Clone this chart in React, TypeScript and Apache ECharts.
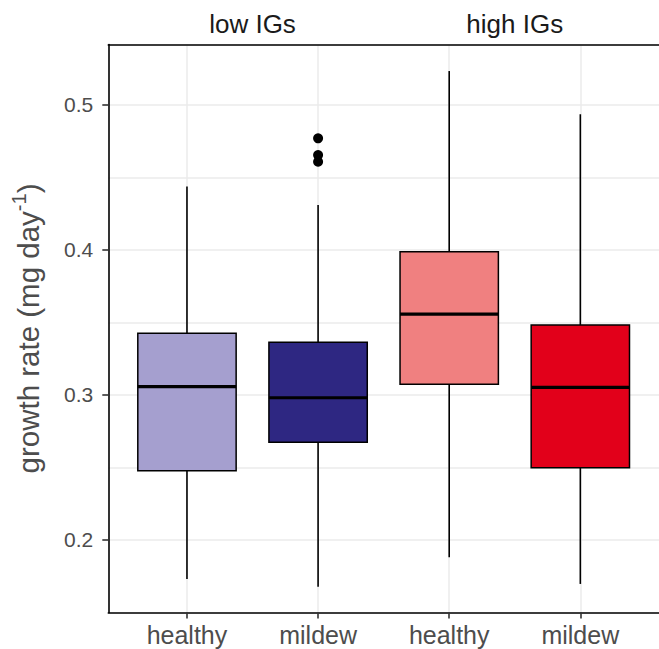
import React, { useEffect, useRef } from 'react';
import * as echarts from 'echarts';

const categories = ['healthy', 'mildew', 'healthy', 'mildew'];
const groups = ['low IGs', 'high IGs'];
const whiskerLow = [0.1731, 0.1678, 0.1881, 0.1697];
const q1 = [0.2478, 0.2674, 0.3074, 0.2499];
const median = [0.3057, 0.2981, 0.3557, 0.3053];
const q3 = [0.3426, 0.3363, 0.3988, 0.3483];
const whiskerHigh = [0.4437, 0.431, 0.5234, 0.4936];
const boxColors = ['#a59fcf', '#2e2782', '#f08080', '#e2001a'];
const outlierCategory = [2, 2, 2];
const outlierValues = [0.477, 0.4655, 0.4609];
const yTicks = [0.2, 0.3, 0.4, 0.5];
const catPositions = [1, 2, 3, 4];
const groupPositions = [1.5, 3.5];

const FONT = "'Liberation Sans', Arial, Helvetica, sans-serif";

export default function App() {
  const ref = useRef<HTMLDivElement>(null);
  useEffect(() => {
    document.body.style.margin = '0';
    if (!ref.current) return;
    const chart = echarts.init(ref.current, null, { renderer: 'svg' });
    const boxData = categories.map((_, i) => [
      catPositions[i], whiskerLow[i], q1[i], median[i], q3[i], whiskerHigh[i],
    ]);
    const outliers = outlierValues.map((v, i) => [outlierCategory[i], v]);
    const option: any = {
      animation: false,
      backgroundColor: '#fff',
      textStyle: { fontFamily: FONT },
      grid: { left: 108.3, top: 44.5, width: 554, height: 568, containLabel: false },
      xAxis: [
        {
          type: 'value', min: 0.4, max: 4.6, position: 'bottom',
          axisLine: { show: true, onZero: false, lineStyle: { color: '#000', width: 1.6 } },
          axisTick: { show: true, customValues: catPositions, length: 6, lineStyle: { color: '#333', width: 1.6 } },
          axisLabel: {
            customValues: catPositions,
            formatter: (v: number) => categories[Math.round(v) - 1] ?? '',
            color: '#4d4d4d', fontSize: 25, margin: 10, fontFamily: FONT,
          },
          splitLine: { show: true, lineStyle: { color: '#ebebeb', width: 1.5 } },
        },
        {
          type: 'value', min: 0.4, max: 4.6, position: 'top',
          axisLine: { show: true, onZero: false, lineStyle: { color: '#000', width: 1.6 } },
          axisTick: { show: false },
          axisLabel: {
            customValues: groupPositions,
            formatter: (v: number) => (v < 2.5 ? groups[0] : groups[1]),
            color: '#1a1a1a', fontSize: 26, margin: 8, fontFamily: FONT,
          },
          splitLine: { show: false },
        },
      ],
      yAxis: [
        {
          type: 'value', min: 0.15, max: 0.5417, interval: 0.05, position: 'left',
          axisLine: { show: true, onZero: false, lineStyle: { color: '#000', width: 1.6 } },
          axisTick: { show: false },
          axisLabel: { show: false },
          splitLine: { show: true, lineStyle: { color: '#ebebeb', width: 1.5 } },
        },
        {
          type: 'value', min: 0.15, max: 0.5417, position: 'left',
          axisLine: { show: false },
          axisTick: { show: true, customValues: yTicks, length: 6, lineStyle: { color: '#333', width: 1.6 } },
          axisLabel: {
            customValues: yTicks,
            formatter: (v: number) => v.toFixed(1),
            color: '#4d4d4d', fontSize: 21, margin: 15, fontFamily: FONT,
          },
          splitLine: { show: false },
          name: '{a|growth rate (mg day}{s|-1}{a|)}',
          nameLocation: 'middle',
          nameGap: 65,
          nameTextStyle: {
            color: '#4d4d4d', fontSize: 29.5, fontFamily: FONT,
            rich: {
              a: { color: '#4d4d4d', fontSize: 29.5, lineHeight: 34, verticalAlign: 'bottom', fontFamily: FONT },
              s: { color: '#4d4d4d', fontSize: 20, lineHeight: 20, verticalAlign: 'top', fontFamily: FONT },
            },
          },
        },
      ],
      series: [
        {
          type: 'custom',
          xAxisIndex: 0, yAxisIndex: 0,
          z: 3,
          encode: { x: 0, y: [1, 2, 3, 4, 5] },
          data: boxData,
          renderItem: (params: any, api: any) => {
            const x = api.value(0);
            const lo = api.coord([x, api.value(1)]);
            const b1 = api.coord([x, api.value(2)]);
            const md = api.coord([x, api.value(3)]);
            const b3 = api.coord([x, api.value(4)]);
            const hi = api.coord([x, api.value(5)]);
            const w = api.size([0.75, 0])[0];
            const cx = lo[0];
            return {
              type: 'group',
              children: [
                { type: 'line', shape: { x1: cx, y1: hi[1], x2: cx, y2: b3[1] }, style: { stroke: '#000', lineWidth: 1.6 } },
                { type: 'line', shape: { x1: cx, y1: b1[1], x2: cx, y2: lo[1] }, style: { stroke: '#000', lineWidth: 1.6 } },
                {
                  type: 'rect',
                  shape: { x: cx - w / 2, y: b3[1], width: w, height: b1[1] - b3[1] },
                  style: { fill: boxColors[params.dataIndex], stroke: '#000', lineWidth: 1.5 },
                },
                { type: 'line', shape: { x1: cx - w / 2, y1: md[1], x2: cx + w / 2, y2: md[1] }, style: { stroke: '#000', lineWidth: 3.2 } },
              ],
            };
          },
        },
        {
          type: 'scatter',
          xAxisIndex: 0, yAxisIndex: 0,
          z: 4,
          data: outliers,
          symbol: 'circle',
          symbolSize: 10,
          itemStyle: { color: '#000', opacity: 1 },
        },
      ],
    };
    chart.setOption(option);
    return () => chart.dispose();
  }, []);
  return <div ref={ref} style={{ width: 659, height: 649 }} />;
}
